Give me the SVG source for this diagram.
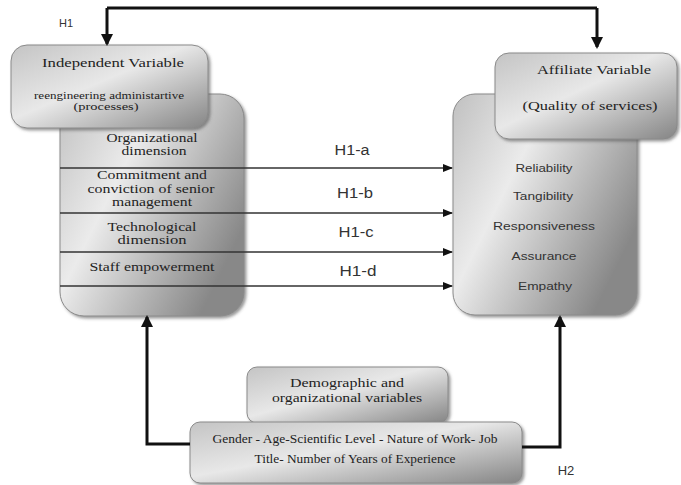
<svg xmlns="http://www.w3.org/2000/svg" width="681" height="485" viewBox="0 0 681 485">
<defs>
<linearGradient id="g1" x1="0" y1="0" x2="1" y2="1">
<stop offset="0" stop-color="#c4c4c4"/>
<stop offset="0.45" stop-color="#e8e8e8"/>
<stop offset="1" stop-color="#858585"/>
</linearGradient>
<linearGradient id="g2" x1="0" y1="0" x2="1" y2="0.6">
<stop offset="0" stop-color="#c0c0c0"/>
<stop offset="0.4" stop-color="#ebebeb"/>
<stop offset="1" stop-color="#888888"/>
</linearGradient>
<filter id="sh" x="-10%" y="-10%" width="130%" height="130%">
<feDropShadow dx="2" dy="2" stdDeviation="1.5" flood-color="#555" flood-opacity="0.6"/>
</filter>
<marker id="ah" markerWidth="10" markerHeight="8" refX="9" refY="4" orient="auto" markerUnits="userSpaceOnUse">
<path d="M0,0 L10,4 L0,8 Z" fill="#111"/>
</marker>
<marker id="ahb" markerWidth="12" markerHeight="12" refX="10" refY="6" orient="auto" markerUnits="userSpaceOnUse">
<path d="M0,0 L12,6 L0,12 Z" fill="#111"/>
</marker>
</defs>
<style>
.box{stroke:#8a8a8a;stroke-width:1;filter:url(#sh)}
.serif{font-family:"Liberation Serif","Times New Roman",serif;fill:#222;text-anchor:middle}
.sans{font-family:"Liberation Sans",Arial,sans-serif;fill:#333;text-anchor:middle}
.thin{stroke:#333;stroke-width:1.5;fill:none}
.thick{stroke:#111;stroke-width:3;fill:none}
</style>
<rect width="681" height="485" fill="#fff"/>

<g id="left-box">
<rect class="box" x="60" y="94" width="184" height="222" rx="24" fill="url(#g2)"/>
<text class="serif" font-size="11.5" x="152" y="142" textLength="91" lengthAdjust="spacingAndGlyphs">Organizational</text>
<text class="serif" font-size="11.5" x="154" y="155" textLength="65" lengthAdjust="spacingAndGlyphs">dimension</text>
<text class="serif" font-size="11.5" x="152" y="179" textLength="110" lengthAdjust="spacingAndGlyphs">Commitment and</text>
<text class="serif" font-size="11.5" x="151" y="193" textLength="127" lengthAdjust="spacingAndGlyphs">conviction of senior</text>
<text class="serif" font-size="11.5" x="152" y="206" textLength="80" lengthAdjust="spacingAndGlyphs">management</text>
<text class="serif" font-size="11.5" x="152" y="231" textLength="89" lengthAdjust="spacingAndGlyphs">Technological</text>
<text class="serif" font-size="11.5" x="152" y="244" textLength="69" lengthAdjust="spacingAndGlyphs">dimension</text>
<text class="serif" font-size="11.5" x="152" y="271" textLength="125" lengthAdjust="spacingAndGlyphs">Staff empowerment</text>
</g>

<g id="independent">
<rect class="box" x="11" y="45" width="197" height="83" rx="16" fill="url(#g1)"/>
<text class="serif" font-size="13.5" x="113" y="67" textLength="142" lengthAdjust="spacingAndGlyphs">Independent Variable</text>
<text class="serif" font-size="10" fill="#555" x="109" y="99" textLength="150" lengthAdjust="spacingAndGlyphs">reengineering administartive</text>
<text class="serif" font-size="10" fill="#555" x="106" y="110" textLength="65" lengthAdjust="spacingAndGlyphs">(processes)</text>
</g>

<g id="right-box">
<rect class="box" x="453" y="94" width="184" height="221" rx="22" fill="url(#g2)"/>
<text class="sans" font-size="11.5" x="544" y="172" textLength="57" lengthAdjust="spacingAndGlyphs">Reliability</text>
<text class="sans" font-size="11.5" x="543" y="200" textLength="60" lengthAdjust="spacingAndGlyphs">Tangibility</text>
<text class="sans" font-size="11.5" x="544" y="230" textLength="102" lengthAdjust="spacingAndGlyphs">Responsiveness</text>
<text class="sans" font-size="11.5" x="544" y="260" textLength="65" lengthAdjust="spacingAndGlyphs">Assurance</text>
<text class="sans" font-size="11.5" x="545" y="290" textLength="54" lengthAdjust="spacingAndGlyphs">Empathy</text>
</g>

<g id="affiliate">
<rect class="box" x="495" y="53" width="182" height="86" rx="14" fill="url(#g1)"/>
<text class="serif" font-size="13.5" x="594" y="74" textLength="114" lengthAdjust="spacingAndGlyphs">Affiliate Variable</text>
<text class="serif" font-size="13.5" x="590" y="110" textLength="135" lengthAdjust="spacingAndGlyphs">(Quality of services)</text>
</g>

<g id="demographic">
<rect class="box" x="247" y="367" width="201" height="56" rx="10" fill="url(#g1)"/>
<text class="serif" font-size="13" x="347" y="387" textLength="114" lengthAdjust="spacingAndGlyphs">Demographic and</text>
<text class="serif" font-size="13" x="347" y="402" textLength="150" lengthAdjust="spacingAndGlyphs">organizational variables</text>
</g>

<g id="gender">
<rect class="box" x="190" y="422" width="332" height="61" rx="10" fill="url(#g1)"/>
<text class="serif" font-size="11.5" fill="#444" x="355" y="443" textLength="285" lengthAdjust="spacingAndGlyphs">Gender - Age-Scientific Level - Nature of Work- Job</text>
<text class="serif" font-size="11.5" fill="#444" x="355" y="463" textLength="201" lengthAdjust="spacingAndGlyphs">Title- Number of Years of Experience</text>
</g>

<g id="connectors">
<path class="thick" d="M107,8 H597"/>
<path class="thick" d="M107,8 V44" marker-end="url(#ahb)"/>
<path class="thick" d="M597,8 V47" marker-end="url(#ahb)"/>
<path class="thin" d="M60,168 H452" marker-end="url(#ah)"/>
<path class="thin" d="M60,213 H452" marker-end="url(#ah)"/>
<path class="thin" d="M60,252 H452" marker-end="url(#ah)"/>
<path class="thin" d="M60,286 H452" marker-end="url(#ah)"/>
<path class="thick" d="M190,444 H147 V317" marker-end="url(#ahb)"/>
<path class="thick" d="M522,447 H560 V317" marker-end="url(#ahb)"/>
</g>

<g id="labels">
<text class="sans" font-size="11" fill="#333" x="66" y="27">H1</text>
<text class="sans" font-size="14" fill="#222" x="352" y="155" textLength="35" lengthAdjust="spacingAndGlyphs">H1-a</text>
<text class="sans" font-size="14" fill="#222" x="355" y="198" textLength="36" lengthAdjust="spacingAndGlyphs">H1-b</text>
<text class="sans" font-size="14" fill="#222" x="356" y="237" textLength="35" lengthAdjust="spacingAndGlyphs">H1-c</text>
<text class="sans" font-size="14" fill="#222" x="358" y="276" textLength="37" lengthAdjust="spacingAndGlyphs">H1-d</text>
<text class="sans" font-size="13" fill="#222" x="566" y="475">H2</text>
</g>
</svg>
